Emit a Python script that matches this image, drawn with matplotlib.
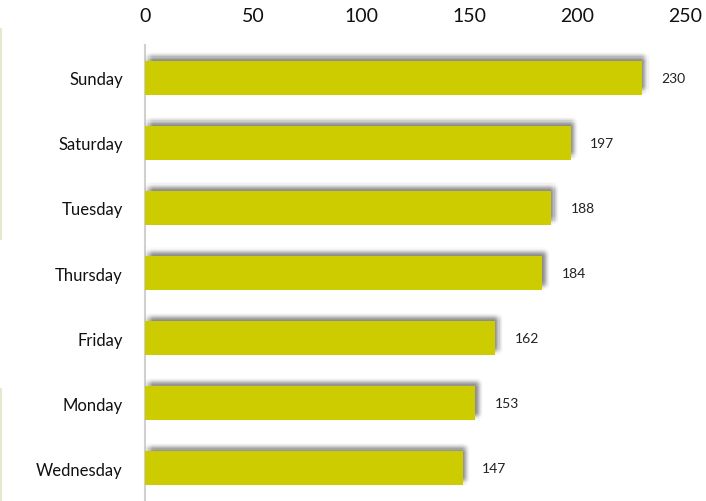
import math
import matplotlib
matplotlib.use("Agg")
import matplotlib.pyplot as plt
import matplotlib.patheffects as pe
from matplotlib.lines import Line2D

days = ["Sunday", "Saturday", "Tuesday", "Thursday", "Friday", "Monday", "Wednesday"]
counts = [230, 197, 188, 184, 162, 153, 147]
xticks = [0, 50, 100, 150, 200, 250]

plt.rcParams['font.family'] = ['Lato', 'DejaVu Sans']

fig = plt.figure(figsize=(7.06, 5.02), dpi=100)
ax = fig.add_axes([145/706, 0.0, 540/706, 1 - 46/502])

# soft blurred shadow: gaussian-weighted faint offset copies
shadow = []
cx, cy = 2.5, 3.0
sig = 2.0
for i in range(-5, 6):
    for j in range(-5, 6):
        dx, dy = i * 0.8, j * 0.8
        r2 = dx * dx + dy * dy
        if r2 > 16:
            continue
        a = 0.014 * math.exp(-r2 / (2 * sig * sig))
        shadow.append(pe.SimplePatchShadow(offset=(cx + dx, cy + dy),
                                           shadow_rgbFace='black', alpha=a))
shadow.append(pe.Normal())

pos = list(range(len(days)))
bars = ax.barh(pos, counts, height=0.52, color="#cccc00", zorder=3)
for b in bars:
    b.set_path_effects(shadow)

for p, v in zip(pos, counts):
    ax.text(v + 9, p, str(v), va="center", ha="left", fontsize=10, color="#222222")

ax.set_ylim(len(days) - 0.5, -0.5)
ax.set_xlim(0, 250)
ax.set_yticks(pos)
ax.set_yticklabels(days, fontsize=12, color="#111111")
ax.set_xticks(xticks)
ax.set_xticklabels([str(t) for t in xticks], fontsize=14, color="#111111")
ax.xaxis.tick_top()
ax.tick_params(axis="y", length=0, pad=16)
ax.tick_params(axis="x", length=0, pad=15)

for s in ["top", "right", "bottom"]:
    ax.spines[s].set_visible(False)
ax.spines["left"].set_color("#d0d0d0")
ax.spines["left"].set_linewidth(1.5)

# faint line on the left border of the image
fig.add_artist(Line2D([0.002, 0.002], [1 - 30/502, 1 - 240/502], transform=fig.transFigure, color="#e8e8d0", lw=1.5))
fig.add_artist(Line2D([0.002, 0.002], [1 - 390/502, 0.0], transform=fig.transFigure, color="#e8e8d0", lw=1.5))

fig.savefig("out.png", dpi=100)
